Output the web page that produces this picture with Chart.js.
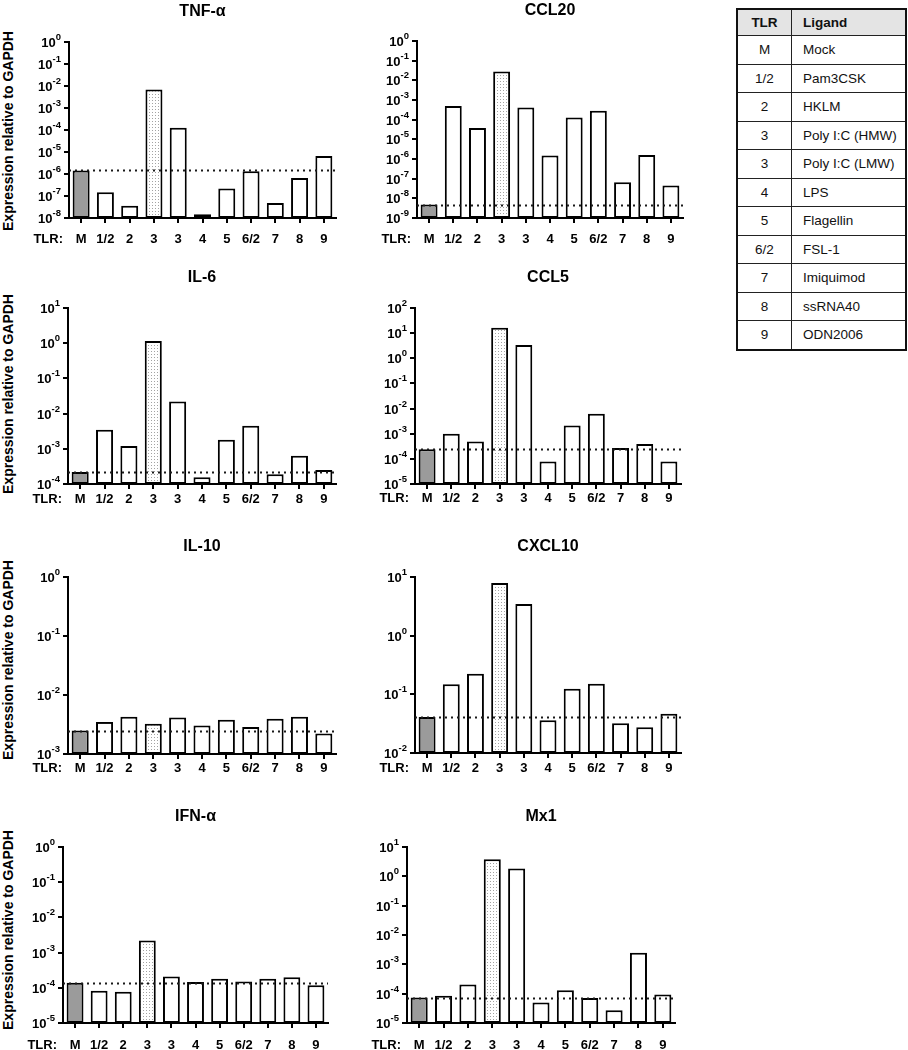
<!DOCTYPE html>
<html>
<head>
<meta charset="utf-8">
<title>Cytokine expression after TLR ligand stimulation</title>
<script src="https://cdn.jsdelivr.net/npm/chart.js@4.4.1/dist/chart.umd.min.js"></script>
<style>
    body {
        margin: 0;
        background: #fff;
        font-family: "Liberation Sans", Arial, Helvetica, sans-serif;
    }
    #page {
        position: relative;
        width: 908px;
        height: 1050px;
        overflow: hidden;
    }
    #page canvas {
        position: absolute;
    }
    .ytitle {
        position: absolute;
        font-size: 14px;
        font-weight: bold;
        color: #000;
        white-space: nowrap;
        transform: translate(-50%, -50%) rotate(-90deg);
    }
    #ligands {
        position: absolute;
        left: 736px;
        top: 8px;
        width: 171px;
        border-collapse: collapse;
        border: 2px solid #111;
        font-size: 13.5px;
        color: #111;
    }
    #ligands th,
    #ligands td {
        border: 1.5px solid #222;
        padding: 0;
    }
    #ligands th {
        background: #e4e4e4;
        font-weight: bold;
        height: 25px;
    }
    #ligands td {
        height: 27.5px;
    }
    #ligands .tlr {
        width: 53px;
        text-align: center;
    }
    #ligands .lig {
        text-align: left;
        padding-left: 11px;
    }
</style>
</head>
<body>
<div id="page">
    <div class="ytitle" style="left: 8px; top: 131px">Expression relative to GAPDH</div>
    <div class="ytitle" style="left: 8px; top: 394px">Expression relative to GAPDH</div>
    <div class="ytitle" style="left: 8px; top: 660px">Expression relative to GAPDH</div>
    <div class="ytitle" style="left: 8px; top: 930px">Expression relative to GAPDH</div>
    <table id="ligands"></table>
</div>

<script>
// Stimulation groups on every x axis
const tlrLabels = ["M", "1/2", "2", "3", "3", "4", "5", "6/2", "7", "8", "9"];

// Expression relative to GAPDH
const tnfValues = [1.45e-6, 1.5e-7, 3.6e-8, 6.9e-3, 1.26e-4, 1.5e-8, 2.2e-7, 1.35e-6, 4.8e-8, 6.5e-7, 6.6e-6];
const ccl20Values = [4.8e-9, 4.9e-4, 3.8e-5, 2.8e-2, 4.1e-4, 1.5e-6, 1.3e-4, 2.8e-4, 6.6e-8, 1.6e-6, 4.5e-8];
const il6Values = [2.2e-4, 3.5e-3, 1.2e-3, 1.15, 2.2e-2, 1.55e-4, 1.8e-3, 4.5e-3, 1.9e-4, 6.3e-4, 2.5e-4];
const ccl5Values = [2.4e-4, 1.0e-3, 4.9e-4, 16.5, 3.4, 7.9e-5, 2.1e-3, 6.2e-3, 2.7e-4, 3.9e-4, 7.9e-5];
const il10Values = [2.5e-3, 3.5e-3, 4.3e-3, 3.25e-3, 4.16e-3, 3.05e-3, 3.8e-3, 2.86e-3, 3.95e-3, 4.27e-3, 2.23e-3];
const cxcl10Values = [4.1e-2, 0.148, 0.225, 7.9, 3.47, 3.6e-2, 0.125, 0.152, 3.2e-2, 2.76e-2, 4.66e-2];
const ifnaValues = [1.39e-4, 8.2e-5, 7.7e-5, 2.2e-3, 2.1e-4, 1.45e-4, 1.8e-4, 1.5e-4, 1.8e-4, 2.0e-4, 1.19e-4];
const mx1Values = [7.4e-5, 8.5e-5, 2.06e-4, 3.8, 1.85, 5.0e-5, 1.3e-4, 7.1e-5, 2.7e-5, 2.5e-3, 9.4e-5];

// Decade exponents of each y axis [lowest, highest]
const tnfDecades = [-8, 0];
const ccl20Decades = [-9, 0];
const il6Decades = [-4, 1];
const ccl5Decades = [-5, 2];
const il10Decades = [-3, 0];
const cxcl10Decades = [-2, 1];
const ifnaDecades = [-5, 0];
const mx1Decades = [-5, 1];

// Ligand key table
const tableTlr = ["M", "1/2", "2", "3", "3", "4", "5", "6/2", "7", "8", "9"];
const tableLigand = ["Mock", "Pam3CSK", "HKLM", "Poly I:C (HMW)", "Poly I:C (LMW)", "LPS",
    "Flagellin", "FSL-1", "Imiquimod", "ssRNA40", "ODN2006"];

const FONT = '"Liberation Sans", Arial, Helvetica, sans-serif';
const PAD_L = 50, PAD_T = 45, PAD_R = 10, PAD_B = 35;
const Y_W = 6, X_H = 30, TICK_LEN = 5;

// Panel layout: chart area edges in page pixels and gap to the x labels
const panels = [
    { name: "TNF-\u03b1", values: tnfValues, decades: tnfDecades, area: [69, 42, 336, 218], labelGap: 21 },
    { name: "CCL20", values: ccl20Values, decades: ccl20Decades, area: [417, 41, 683, 218], labelGap: 21 },
    { name: "IL-6", values: il6Values, decades: il6Decades, area: [68, 308, 336, 484], labelGap: 15 },
    { name: "CCL5", values: ccl5Values, decades: ccl5Decades, area: [415, 308, 681, 484], labelGap: 14 },
    { name: "IL-10", values: il10Values, decades: il10Decades, area: [68, 577, 336, 754], labelGap: 14 },
    { name: "CXCL10", values: cxcl10Values, decades: cxcl10Decades, area: [415, 577, 681, 753], labelGap: 15 },
    { name: "IFN-\u03b1", values: ifnaValues, decades: ifnaDecades, area: [63, 847, 328, 1023], labelGap: 22 },
    { name: "Mx1", values: mx1Values, decades: mx1Decades, area: [407, 847, 675, 1023], labelGap: 22 },
];

/**
 * Light stipple used for the Poly I:C (HMW) bar
 */
function makeStipple() {
    const tile = document.createElement("canvas");
    tile.width = 3;
    tile.height = 3;
    const t = tile.getContext("2d");
    t.fillStyle = "#ffffff";
    t.fillRect(0, 0, 3, 3);
    t.fillStyle = "#a3a3a3";
    t.fillRect(1, 1, 1, 1);
    return t.createPattern(tile, "repeat");
}

/**
 * Title, superscript tick labels, "TLR:" and the dotted mock line
 */
const panelDecor = {
    id: "panelDecor",
    afterDatasetsDraw(chart) {
        const { ctx, chartArea, scales } = chart;
        const mock = chart.data.datasets[0].data[0];
        const py = Math.round(scales.y.getPixelForValue(mock)) + 0.5;
        ctx.save();
        ctx.strokeStyle = "#1a1a1a";
        ctx.lineWidth = 2;
        ctx.setLineDash([2, 4]);
        ctx.beginPath();
        ctx.moveTo(chartArea.left, py);
        ctx.lineTo(chartArea.right, py);
        ctx.stroke();
        ctx.restore();
    },
    afterDraw(chart, args, opts) {
        const { ctx, chartArea, scales } = chart;
        ctx.save();
        ctx.fillStyle = "#000";

        // panel title
        ctx.font = "bold 16px " + FONT;
        ctx.textAlign = "center";
        ctx.textBaseline = "middle";
        ctx.fillText(opts.title, (chartArea.left + chartArea.right) / 2, chartArea.top - 30);

        // y tick labels as 10 with a raised exponent
        const right = chartArea.left - TICK_LEN - 3;
        scales.y.ticks.forEach((tick) => {
            const py = scales.y.getPixelForValue(tick.value);
            const exp = String(Math.round(Math.log10(tick.value)));
            ctx.font = "bold 9.5px " + FONT;
            const ew = ctx.measureText(exp).width;
            ctx.textAlign = "left";
            ctx.textBaseline = "alphabetic";
            ctx.fillText(exp, right - ew, py - 2);
            ctx.font = "bold 13px " + FONT;
            ctx.textAlign = "right";
            ctx.fillText("10", right - ew, py + 5);
        });

        // "TLR:" in front of the category labels
        ctx.font = "bold 13px " + FONT;
        ctx.textAlign = "right";
        ctx.textBaseline = "middle";
        ctx.fillText("TLR:", chartArea.left - 6, chartArea.bottom + opts.labelGap);
        ctx.restore();
    },
};

function buildTable() {
    const table = document.getElementById("ligands");
    let html = '<tr><th class="tlr">TLR</th><th class="lig">Ligand</th></tr>';
    tableTlr.forEach((tlr, i) => {
        html += `<tr><td class="tlr">${tlr}</td><td class="lig">${tableLigand[i]}</td></tr>`;
    });
    table.innerHTML = html;
}

function createPanel(panel, stipple) {
    const [caL, caT, caR, caB] = panel.area;
    const canvas = document.createElement("canvas");
    const w = caR - caL + PAD_L + PAD_R;
    const h = caB - caT + PAD_T + PAD_B;
    canvas.width = w;
    canvas.height = h;
    canvas.style.left = caL - PAD_L + "px";
    canvas.style.top = caT - PAD_T + "px";
    canvas.style.width = w + "px";
    canvas.style.height = h + "px";
    document.getElementById("page").appendChild(canvas);

    const fills = panel.values.map((v, i) => (i === 0 ? "#9b9b9b" : i === 3 ? stipple : "#ffffff"));
    const lo = panel.decades[0];
    const hi = panel.decades[1];
    const tickPadding = panel.labelGap - TICK_LEN - 7.8;

    new Chart(canvas, {
        type: "bar",
        data: {
            labels: tlrLabels,
            datasets: [
                {
                    data: panel.values,
                    backgroundColor: fills,
                    borderColor: "#000",
                    borderWidth: 2,
                    borderSkipped: false,
                    barPercentage: 0.7,
                    categoryPercentage: 1,
                },
            ],
        },
        options: {
            responsive: false,
            animation: false,
            events: [],
            layout: {
                padding: { left: PAD_L - Y_W, top: PAD_T, right: PAD_R, bottom: PAD_B - X_H },
            },
            plugins: {
                legend: { display: false },
                tooltip: { enabled: false },
                panelDecor: { title: panel.name, labelGap: panel.labelGap },
            },
            scales: {
                x: {
                    grid: {
                        offset: false,
                        drawOnChartArea: false,
                        color: "#000",
                        lineWidth: 2,
                        tickLength: TICK_LEN,
                    },
                    border: { color: "#000", width: 2 },
                    ticks: {
                        color: "#000",
                        font: { family: FONT, size: 13, weight: "bold" },
                        padding: tickPadding,
                        maxRotation: 0,
                        autoSkip: false,
                    },
                    afterFit: (scale) => {
                        scale.height = X_H;
                    },
                },
                y: {
                    type: "logarithmic",
                    min: Number("1e" + lo),
                    max: Number("1e" + hi),
                    grid: {
                        drawOnChartArea: false,
                        color: "#000",
                        lineWidth: 2,
                        tickLength: TICK_LEN,
                    },
                    border: { color: "#000", width: 2 },
                    ticks: { display: false },
                    afterBuildTicks: (scale) => {
                        const ticks = [];
                        for (let e = lo; e <= hi; e++) {
                            ticks.push({ value: Number("1e" + e) });
                        }
                        scale.ticks = ticks;
                    },
                    afterFit: (scale) => {
                        scale.width = Y_W;
                    },
                },
            },
        },
        plugins: [panelDecor],
    });
}

buildTable();
const stipple = makeStipple();
panels.forEach((p) => createPanel(p, stipple));
</script>
</body>
</html>
